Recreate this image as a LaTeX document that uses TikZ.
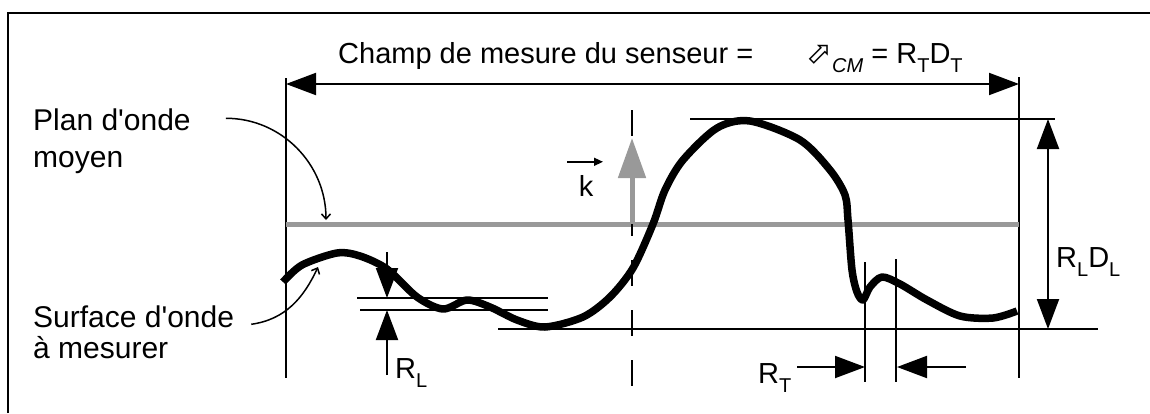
\documentclass[tikz,border=0pt]{standalone}
\usepackage{fontspec}
\setmainfont{Liberation Sans}
\newfontfamily\symfont{DejaVu Sans}
\usepackage{tikz}
\usetikzlibrary{arrows.meta}
\definecolor{planGray}{gray}{0.6}
\newcommand{\lbl}{\fontsize{29}{35}\selectfont}
\newcommand{\sbs}[1]{\raisebox{-0.33em}{\fontsize{20}{20}\selectfont #1}}

\begin{document}
\begin{tikzpicture}[x=1pt,y=-1pt,
		txt/.style={inner sep=0pt,anchor=base west,font=\lbl},
		fine/.style={line width=2pt},
		bigtip/.tip={Triangle[length=30pt,width=22pt]},
		leader/.style={line width=1.5pt,-{Straight Barb[length=5pt,width=9pt]}}]
	\useasboundingbox (0,0) rectangle (1150,413);
	\draw[line width=2.5pt,line join=miter] (8,413) -- (8,13) -- (1150,13);
	% champ de mesure
	\node[txt] (titre) at (338,63) {Champ de mesure du senseur =};
	\node[txt] (formule) at (806,63) {{\symfont\fontsize{31}{31}\selectfont ⬀}\sbs{\itshape CM} = R\sbs{T}D\sbs{T}};
	\draw[fine] (286,78) -- (286,378);
	\draw[fine] (1019,77) -- (1019,378);
	\draw[fine,bigtip-bigtip] (286,84) -- (1019,84);
	% plan d'onde moyen et axe
	\draw[planGray,line width=5pt] (286,224) -- (1019,224);
	\draw[fine,dash pattern=on 26pt off 24pt] (632,110) -- (632,390);
	\draw[planGray,line width=5pt,-{Triangle[length=40pt,width=27pt]}] (632,224) -- (632,138);
	\node[txt,anchor=base] (k) at (586,196) {k};
	\draw[line width=1.5pt,-{Triangle[length=9pt,width=8pt]}] ([xshift=-19pt,yshift=13pt]k.north) -- ([xshift=17pt,yshift=13pt]k.north);
	% lignes de reference
	\draw[fine] (690,119) -- (1055,119);
	\draw[fine] (498,329) -- (1098,329);
	\draw[fine] (357,298) -- (548,298);
	\draw[fine] (360,310) -- (548,310);
	% surface d'onde
	\draw[line width=7.5pt,line join=round] plot[smooth,tension=0.5] coordinates {
		(283,282) (302,265) (337,253) (360,256) (387,269) (417,297) (443,309) (467,300)
		(490,307) (517,320) (545,327) (583,317) (610,297) (633,268) (653,224) (665,190)
		(683,160) (717,128) (750,121) (800,140) (830,170) (845,195) (848,220) (852,270)
		(857,292) (863,300) (870,287) (882,277) (900,284) (927,300) (960,316) (993,318) (1017,311)};
	% R_L
	\draw[fine,-bigtip] (387,252) -- (387,298);
	\draw[fine,-bigtip] (387,375) -- (387,310);
	\node[txt] (rl) at (395,378) {R\sbs{L}};
	% R_L D_L
	\draw[fine,bigtip-bigtip] (1048,119) -- (1048,329);
	\node[txt] (rldl) at (1056,267) {R\sbs{L}D\sbs{L}};
	% R_T
	\draw[fine] (865,262) -- (865,382);
	\draw[fine] (896,259) -- (896,382);
	\draw[fine,-bigtip] (797,367) -- (865,367);
	\draw[fine,-bigtip] (966,367) -- (897,367);
	\node[txt] (rt) at (758,383) {R\sbs{T}};
	% legendes
	\node[txt,font=\fontsize{30}{36}\selectfont] (planA) at (33,130) {Plan d\textquotesingle onde};
	\node[txt,font=\fontsize{30}{36}\selectfont] (planB) at (33,167) {moyen};
	\node[txt,font=\fontsize{30}{36}\selectfont] (surfA) at (33,327) {Surface d\textquotesingle onde};
	\node[txt,font=\fontsize{30}{36}\selectfont] (surfB) at (33,358) {à mesurer};
	\coordinate (planFin) at (326,220);
	\coordinate (surfFin) at (318,267);
	\draw[leader] ([xshift=35pt,yshift=1pt]planA.east) to[out=0,in=90] (planFin);
	\draw[leader] ([xshift=17pt,yshift=-8pt]surfA.east) to[out=8,in=-115] (surfFin);
\end{tikzpicture}
\end{document}
